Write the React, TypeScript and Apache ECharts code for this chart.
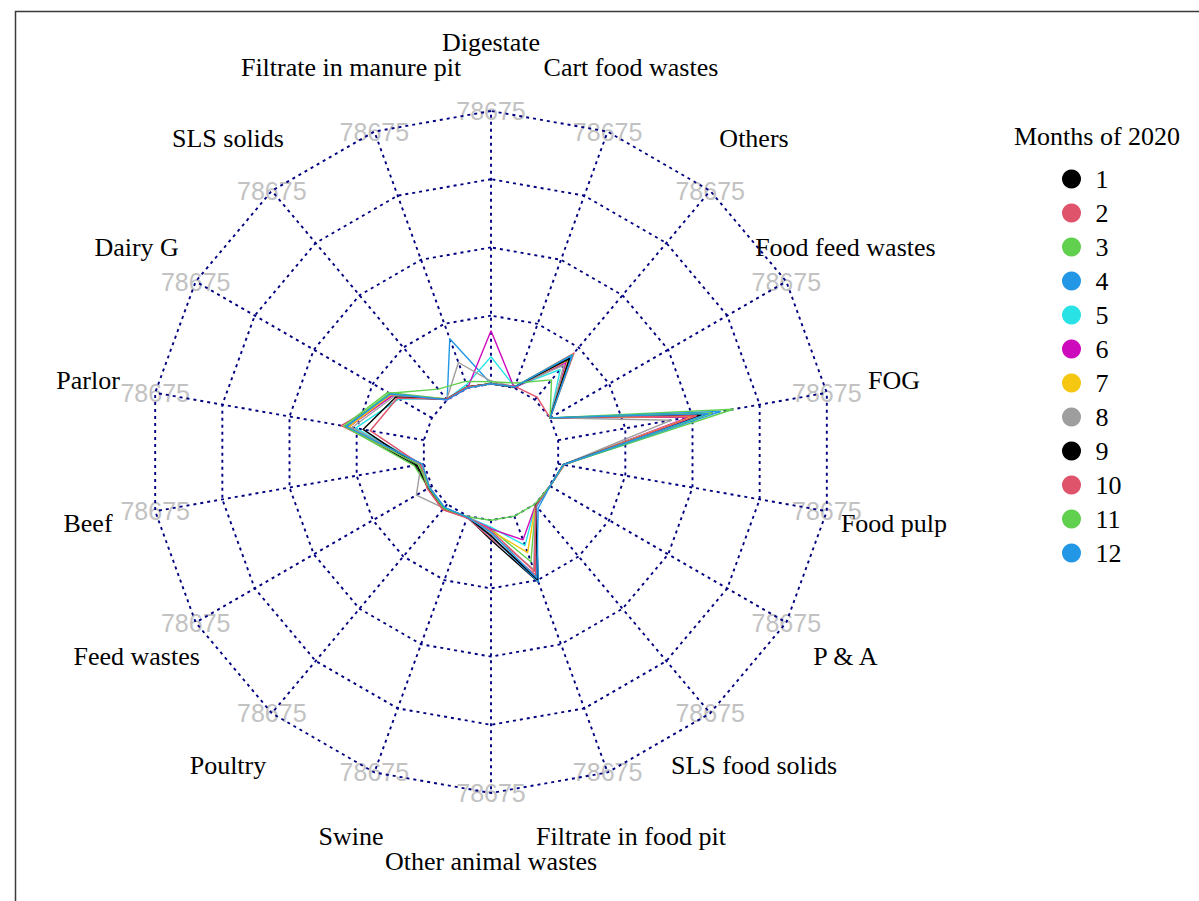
import React, { useEffect, useRef } from "react";
import * as echarts from "echarts";

// Axes, clockwise from the top
const axes = [
  "Digestate",
  "Cart food wastes",
  "Others",
  "Food feed wastes",
  "FOG",
  "Food pulp",
  "P & A",
  "SLS food solids",
  "Filtrate in food pit",
  "Other animal wastes",
  "Swine",
  "Poultry",
  "Feed wastes",
  "Beef",
  "Parlor",
  "Dairy G",
  "SLS solids",
  "Filtrate in manure pit",
];

const months = ["1", "2", "3", "4", "5", "6", "7", "8", "9", "10", "11", "12"];
const colors = [
  "#000000", "#DF536B", "#61D04F", "#2297E6", "#28E2E5", "#CD0BBC",
  "#F5C710", "#9E9E9E", "#000000", "#DF536B", "#61D04F", "#2297E6",
];

const axisMin = 0;
const axisMax = 78675;
const tickLabel = "78675";
const legendTitle = "Months of 2020";

// values per month, in axis order above
const m1 = [0, 300, 16000, 0, 41000, 1500, 0, 300, 20200, 5700, 300, 1500, 1000, 2500, 22000, 13500, 200, 300];
const m2 = [0, 300, 17600, 0, 40000, 1800, 0, 500, 18000, 5200, 500, 2000, 1500, 1200, 24200, 13000, 200, 300];
const m3 = [0, 400, 17000, 0, 51300, 1600, 0, 300, 14000, 2500, 300, 1500, 1200, 2800, 23500, 14700, 300, 400];
const m4 = [0, 300, 16500, 0, 47500, 1500, 0, 800, 20200, 4600, 300, 1200, 800, 800, 22500, 14000, 0, 15100];
const m5 = [7800, 300, 11400, 0, 39000, 1500, 0, 300, 9000, 2000, 300, 1500, 800, 500, 20000, 11000, 200, 1000];
const m6 = [15300, 0, 14000, 0, 38500, 1500, 0, 300, 7300, 2500, 300, 1500, 800, 500, 22000, 13000, 0, 0];
const m7 = [0, 300, 15000, 0, 39500, 1500, 0, 300, 11200, 3000, 300, 1500, 800, 600, 22000, 13500, 200, 300];
const m8 = [800, 300, 13000, 0, 33000, 1500, 0, 300, 16300, 4000, 300, 1500, 5200, 800, 21000, 12500, 200, 7800];
const m9 = [0, 300, 15500, 0, 42000, 1500, 0, 300, 19500, 4500, 300, 1500, 1200, 2000, 17800, 12000, 200, 300];
const m10 = [0, 500, 1000, 0, 40500, 1800, 0, 500, 17000, 3000, 500, 2000, 1500, 1000, 15700, 11500, 200, 300];
const m11 = [600, 1500, 7500, 0, 45000, 1600, 0, 0, 0, 0, 200, 1500, 1000, 1500, 23000, 14200, 4000, 2000];
const m12 = [0, 300, 16800, 0, 44000, 1500, 0, 1500, 19000, 3500, 300, 1200, 800, 500, 22800, 13800, 0, 0];
const monthValues = [m1, m2, m3, m4, m5, m6, m7, m8, m9, m10, m11, m12];

const SERIF = "'Liberation Serif', 'Times New Roman', serif";
const SANS = "'Liberation Sans', Arial, sans-serif";
const GRID_COLOR = "#000080";
const GRID_DASH = [3, 4];
const GRID_WIDTH = 1.9;

export default function App() {
  const ref = useRef<HTMLDivElement>(null);

  useEffect(() => {
    if (!ref.current) return;
    const chart = echarts.init(ref.current, null, { renderer: "svg" });
    const cx = 491;
    const cy = 452;
    const R = 341;
    const segs = 4; // rings above the inner gap ring
    const n = axes.length;
    // ECharts places indicators counter-clockwise: reorder so they run clockwise
    const order = axes.map((_, i) => (n - i) % n);
    const gap = (axisMax - axisMin) / segs;
    const indicator = order.map((i) => ({ name: axes[i], min: axisMin - gap, max: axisMax }));
    const r0 = R / (segs + 1);

    const seriesData = monthValues.map((vals, k) => ({
      name: months[k],
      value: order.map((i) => vals[i]),
      lineStyle: { color: colors[k], width: 1.4 },
      itemStyle: { color: colors[k] },
    }));

    const graphics: any[] = [];
    graphics.push({
      type: "rect",
      shape: { x: 15.5, y: 11.5, width: 1400, height: 1200 },
      style: { fill: "none", stroke: "#3a3a3a", lineWidth: 1.5 },
      z: -2,
      silent: true,
    });
    axes.forEach((name, i) => {
      const a = (i * 2 * Math.PI) / n;
      const ux = Math.sin(a);
      const uy = -Math.cos(a);
      // axis spoke from the inner ring to the outer ring
      graphics.push({
        type: "line",
        shape: { x1: cx + r0 * ux, y1: cy + r0 * uy, x2: cx + R * ux, y2: cy + R * uy },
        style: { stroke: GRID_COLOR, lineWidth: GRID_WIDTH, lineDash: GRID_DASH },
        z: 0,
        silent: true,
      });
      graphics.push({
        type: "text",
        x: cx + R * ux,
        y: cy + R * uy,
        z: -1,
        silent: true,
        style: {
          text: tickLabel,
          fill: "#c2c2c2",
          font: `25px ${SANS}`,
          align: "center",
          verticalAlign: "middle",
          textAlign: "center",
          textVerticalAlign: "middle",
        },
      });
      graphics.push({
        type: "text",
        x: cx + 1.2 * R * ux,
        y: cy + 1.2 * R * uy,
        z: 5,
        silent: true,
        style: {
          text: name,
          fill: "#000000",
          font: `26px ${SERIF}`,
          align: "center",
          verticalAlign: "middle",
          textAlign: "center",
          textVerticalAlign: "middle",
        },
      });
    });
    graphics.push({
      type: "text",
      x: 1097,
      y: 136,
      z: 5,
      silent: true,
      style: {
        text: legendTitle,
        fill: "#000000",
        font: `26px ${SERIF}`,
        align: "center",
        verticalAlign: "middle",
        textAlign: "center",
        textVerticalAlign: "middle",
      },
    });

    chart.setOption({
      animation: false,
      backgroundColor: "#ffffff",
      legend: {
        data: months,
        orient: "vertical",
        left: 1057,
        top: 161,
        icon: "circle",
        itemWidth: 38,
        itemHeight: 19,
        itemGap: 8,
        selectedMode: false,
        textStyle: { fontFamily: SERIF, fontSize: 26, color: "#000000", lineHeight: 24 },
      },
      radar: {
        center: [cx, cy],
        radius: R,
        startAngle: 90,
        shape: "polygon",
        splitNumber: segs + 1,
        indicator,
        axisName: { show: false },
        axisLine: { show: false },
        splitLine: { lineStyle: { color: GRID_COLOR, width: GRID_WIDTH, type: GRID_DASH } },
        splitArea: { show: false },
        axisTick: { show: false },
        axisLabel: { show: false },
      },
      graphic: graphics,
      series: [
        {
          type: "radar",
          symbol: "none",
          z: 2,
          data: seriesData,
        },
      ],
    });

    return () => chart.dispose();
  }, []);

  return (
    <div
      ref={ref}
      style={{ position: "fixed", left: 0, top: 0, width: 1199, height: 901, background: "#fff" }}
    />
  );
}
